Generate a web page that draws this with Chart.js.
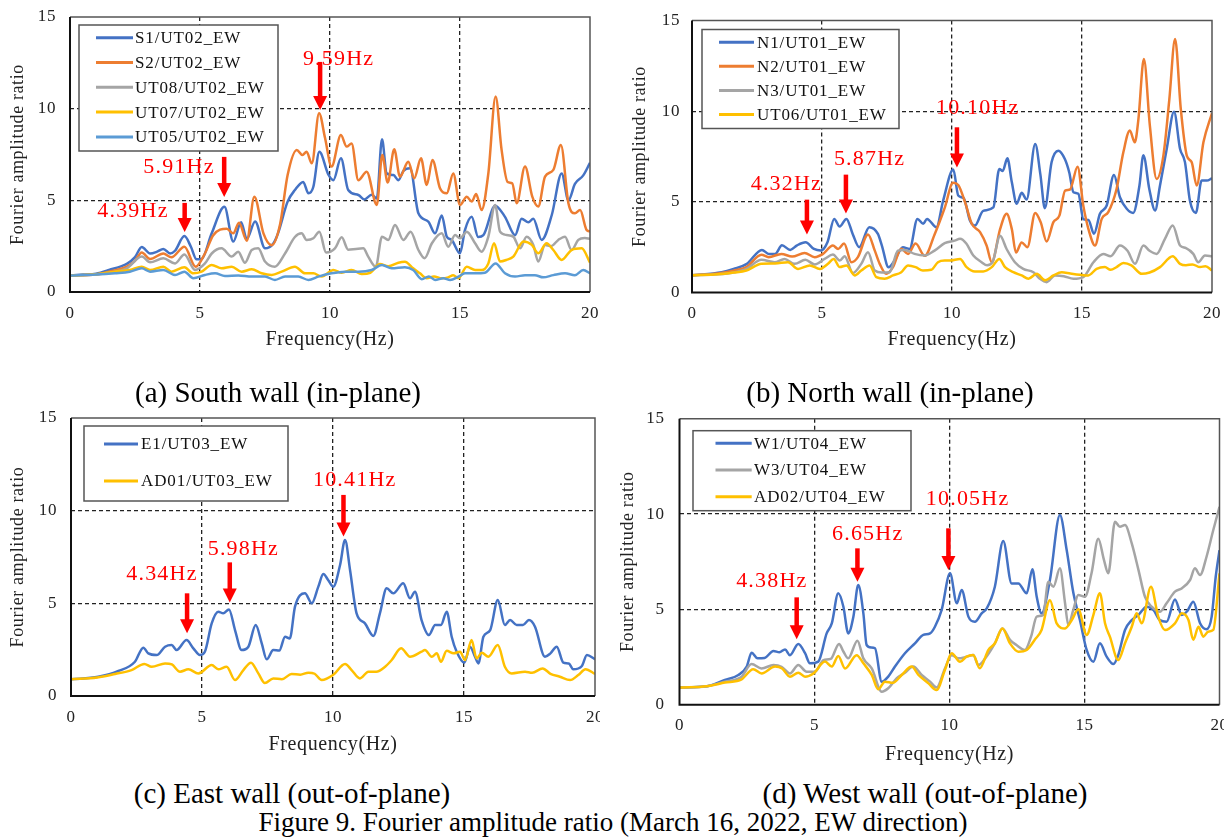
<!DOCTYPE html>
<html><head><meta charset="utf-8">
<script src="https://cdn.jsdelivr.net/npm/chart.js@4.4.1/dist/chart.umd.min.js"></script>
<style>
html,body{margin:0;padding:0;background:#fff;}
body{width:1224px;height:839px;position:relative;overflow:hidden;font-family:'Liberation Serif','Times New Roman',serif;}
canvas{position:absolute;}
.cap{position:absolute;font-size:29px;color:#000;white-space:nowrap;transform:translate(-50%,-50%);line-height:1;}
.fig{font-size:27px;}
</style></head><body>
<canvas id="ca" width="605" height="365" style="left:0;top:0"></canvas>
<canvas id="cb" width="609" height="365" style="left:615px;top:0"></canvas>
<canvas id="cc" width="600" height="360" style="left:0;top:400px"></canvas>
<canvas id="cd" width="609" height="370" style="left:615px;top:400px"></canvas>
<div class="cap" style="left:278px;top:392px">(a) South wall (in-plane)</div>
<div class="cap" style="left:890px;top:392px">(b) North wall (in-plane)</div>
<div class="cap" style="left:292px;top:793px">(c) East wall (out-of-plane)</div>
<div class="cap" style="left:925px;top:793px">(d) West wall (out-of-plane)</div>
<div class="cap fig" style="left:613px;top:822px">Figure 9. Fourier amplitude ratio (March 16, 2022, EW direction)</div>
<script>
// ---------- data: [frequency (Hz), amplitude ratio] ----------
// (a) South wall
const aLabels = ['S1/UT02_EW','S2/UT02_EW','UT08/UT02_EW','UT07/UT02_EW','UT05/UT02_EW'];
const aS1 = [[0,0.9],[0.5,0.95],[1.0,1.0],[1.5,1.2],[2.2,1.55],[2.5,1.9],[2.76,2.45],[3.08,2.1],[3.35,2.2],[3.59,2.35],[3.85,2.1],[4.04,2.25],[4.4,3.05],[4.65,2.47],[4.87,1.78],[5.06,1.8],[5.45,3.2],[5.94,4.65],[6.28,2.75],[6.58,3.8],[6.8,2.9],[7.12,3.85],[7.5,2.38],[7.82,2.65],[8.0,3.2],[8.37,4.93],[8.65,5.56],[8.97,6.0],[9.17,5.38],[9.36,5.74],[9.59,7.65],[9.94,6.4],[10.13,6.1],[10.42,7.29],[10.7,5.56],[11.09,5.29],[11.32,5.05],[11.6,5.3],[11.8,5.1],[12.0,8.33],[12.18,6.47],[12.44,6.38],[12.63,6.1],[12.82,6.6],[13.08,6.75],[13.4,4.29],[13.78,3.84],[14.04,3.2],[14.3,4.17],[14.49,3.02],[14.68,2.84],[15.0,2.11],[15.19,3.38],[15.45,4.1],[15.7,3.0],[15.9,3.1],[16.35,4.71],[16.73,4.1],[17.12,3.1],[17.37,4.0],[17.63,3.8],[17.82,4.0],[18.14,2.84],[18.53,4.2],[18.91,6.47],[19.17,5.0],[19.42,5.9],[19.74,6.36],[20.0,7.05]];
const aS2 = [[0,0.9],[1.0,0.95],[1.5,1.1],[2.18,1.38],[2.5,1.7],[2.76,2.16],[3.08,1.8],[3.59,2.1],[3.9,1.89],[4.4,2.47],[4.83,1.38],[5.19,2.1],[5.51,3.1],[6.03,3.45],[6.28,3.2],[6.5,3.78],[6.8,2.8],[7.09,5.2],[7.44,3.2],[7.76,2.55],[8.08,3.69],[8.37,6.38],[8.72,7.75],[8.94,7.47],[9.1,7.65],[9.3,7.02],[9.58,9.75],[9.81,8.4],[10.06,6.84],[10.42,8.56],[10.64,7.93],[10.83,8.1],[11.09,6.1],[11.41,6.56],[11.8,4.75],[12.01,7.47],[12.22,5.97],[12.47,7.79],[12.69,6.29],[13.01,7.1],[13.24,6.2],[13.5,7.29],[13.72,5.84],[13.94,7.2],[14.23,5.66],[14.49,5.38],[14.74,6.47],[15.0,4.75],[15.26,5.2],[15.45,4.93],[15.62,5.34],[15.83,4.47],[16.09,6.47],[16.37,10.66],[16.6,7.75],[16.83,6.0],[17.01,5.93],[17.18,4.84],[17.5,6.84],[17.78,5.2],[18.01,4.66],[18.27,6.29],[18.59,6.66],[18.88,8.02],[19.17,4.84],[19.42,4.29],[19.62,4.47],[19.87,3.38],[20.0,3.3]];
const aUT08 = [[0,0.9],[1.0,0.95],[1.5,1.05],[2.18,1.29],[2.76,1.93],[3.08,1.62],[3.59,1.84],[4.04,1.56],[4.4,2.05],[4.81,1.2],[5.19,1.56],[5.45,2.1],[5.83,2.38],[6.22,1.93],[6.47,2.2],[6.73,1.6],[6.99,2.29],[7.24,2.38],[7.5,1.66],[7.88,1.38],[8.27,2.1],[8.65,3.0],[8.91,3.2],[9.1,2.84],[9.36,2.93],[9.59,3.29],[9.85,2.15],[10.19,2.38],[10.45,2.98],[10.7,2.31],[11.0,2.35],[11.28,2.38],[11.47,1.93],[11.76,1.38],[12.0,3.02],[12.24,2.84],[12.5,3.66],[12.82,2.84],[13.1,3.29],[13.4,2.29],[13.64,1.84],[13.92,2.66],[14.3,3.2],[14.55,2.47],[14.81,3.11],[15.0,2.93],[15.26,3.29],[15.58,2.66],[15.83,2.2],[16.09,3.02],[16.35,4.75],[16.54,3.29],[16.79,3.11],[17.05,3.02],[17.31,2.38],[17.56,3.02],[17.82,2.57],[18.01,1.66],[18.27,2.57],[18.5,2.5],[18.78,2.84],[19.04,3.02],[19.29,2.29],[19.55,2.84],[19.8,2.95],[20.0,2.9]];
const aUT07 = [[0,0.9],[1.0,0.97],[1.73,1.11],[2.3,1.2],[2.76,1.38],[3.08,1.2],[3.59,1.38],[3.9,1.11],[4.4,1.35],[4.74,1.02],[5.06,1.11],[5.45,1.47],[5.83,1.29],[6.22,1.38],[6.6,1.11],[6.99,1.24],[7.37,1.02],[7.76,0.93],[8.14,1.11],[8.65,1.38],[9.04,1.02],[9.36,1.02],[9.68,0.84],[10.13,1.2],[10.45,1.05],[10.83,1.2],[11.22,0.98],[11.55,1.05],[11.92,1.53],[12.24,1.4],[12.63,1.6],[12.88,1.65],[13.2,1.29],[13.46,1.02],[13.72,0.75],[14.0,0.85],[14.3,0.75],[14.55,0.8],[14.74,0.92],[14.94,0.75],[15.26,1.38],[15.58,1.2],[15.83,1.2],[16.09,1.56],[16.31,2.66],[16.54,1.66],[16.79,1.75],[17.05,1.93],[17.44,2.75],[17.76,2.57],[18.01,2.11],[18.33,2.66],[18.59,2.29],[18.91,1.75],[19.29,2.29],[19.68,2.38],[20.0,1.6]];
const aUT05 = [[0,0.9],[1.0,0.95],[1.73,1.02],[2.3,1.1],[2.76,1.29],[3.08,1.11],[3.59,1.2],[4.04,0.93],[4.4,1.11],[4.74,0.75],[5.19,0.93],[5.58,1.02],[5.96,0.87],[6.47,0.9],[6.99,0.84],[7.5,0.84],[7.88,0.66],[8.27,0.84],[8.78,0.84],[9.17,0.66],[9.55,0.84],[10.06,1.02],[10.58,1.11],[11.09,1.11],[11.6,1.2],[12.0,1.47],[12.37,1.29],[12.88,1.35],[13.2,1.2],[13.53,0.7],[13.8,0.85],[14.04,0.66],[14.36,0.75],[14.62,0.66],[14.94,0.84],[15.19,1.02],[15.58,1.02],[15.96,1.05],[16.37,1.56],[16.73,1.02],[17.12,0.84],[17.5,0.92],[17.88,0.92],[18.2,0.8],[18.59,0.92],[19.04,1.02],[19.42,0.92],[19.74,1.2],[20.0,1.02]];
const aNoteText = ['4.39Hz','5.91Hz','9.59Hz'];
const aNoteAt = [[2.42,4.4],[4.19,6.79],[10.33,12.71]];
const aArrow = [[4.41,4.86,3.27],[5.93,7.37,5.18],[9.62,12.55,9.93]];

// (b) North wall
const bLabels = ['N1/UT01_EW','N2/UT01_EW','N3/UT01_EW','UT06/UT01_EW'];
const bN1 = [[0,0.95],[1.14,1.12],[1.6,1.3],[2.11,1.58],[2.69,2.35],[2.95,2.13],[3.2,2.13],[3.46,2.6],[3.78,2.35],[4.04,2.6],[4.37,2.77],[4.69,2.4],[4.95,2.31],[5.21,2.77],[5.47,4.06],[5.68,3.64],[5.94,4.06],[6.18,3.23],[6.43,2.5],[6.82,3.6],[7.15,3.23],[7.3,2.6],[7.56,1.39],[7.79,1.76],[8.11,2.5],[8.37,2.4],[8.67,4.06],[8.89,3.79],[9.04,4.06],[9.4,3.6],[9.66,5.07],[10.05,6.78],[10.24,5.35],[10.45,5.2],[10.69,3.97],[10.88,3.69],[11.2,4.5],[11.59,4.69],[11.82,6.81],[11.95,6.7],[12.13,7.4],[12.3,6.09],[12.49,4.9],[12.68,5.5],[12.87,5.13],[13.2,8.19],[13.4,6.5],[13.57,4.65],[13.83,7.18],[14.09,7.82],[14.34,7.36],[14.51,6.62],[14.67,5.53],[14.86,5.44],[15.05,4.05],[15.25,4.0],[15.46,3.24],[15.69,4.34],[15.95,4.8],[16.23,6.48],[16.46,5.25],[16.72,4.62],[16.97,4.39],[17.21,5.9],[17.36,7.57],[17.59,5.7],[17.81,4.52],[18.0,5.9],[18.26,7.93],[18.54,9.97],[18.77,7.93],[18.96,7.19],[19.15,5.07],[19.38,4.39],[19.6,6.17],[19.8,6.17],[20.0,6.3]];
const bN2 = [[0,0.95],[1.0,1.05],[1.6,1.2],[2.09,1.4],[2.67,2.08],[2.95,1.95],[3.44,2.13],[3.85,1.98],[4.33,2.18],[4.72,1.95],[5.04,2.13],[5.42,2.59],[5.62,2.4],[5.85,2.7],[6.13,1.67],[6.38,1.95],[6.77,3.2],[7.03,2.31],[7.22,1.58],[7.47,1.03],[7.73,1.4],[8.05,2.41],[8.31,2.13],[8.6,2.7],[8.95,2.02],[9.33,3.2],[9.72,4.67],[10.04,6.05],[10.24,5.93],[10.5,4.98],[10.76,3.79],[11.08,3.33],[11.33,2.59],[11.53,1.67],[11.85,3.5],[12.1,4.34],[12.3,3.5],[12.46,2.2],[12.68,2.76],[12.9,2.5],[13.2,4.39],[13.41,3.88],[13.64,2.81],[13.9,3.88],[14.13,4.24],[14.35,5.62],[14.54,5.68],[14.83,6.94],[15.05,4.79],[15.28,3.33],[15.5,2.59],[15.76,4.06],[16.01,4.43],[16.33,5.71],[16.59,7.73],[16.84,8.93],[17.03,8.28],[17.17,9.56],[17.38,12.87],[17.61,9.2],[17.87,6.26],[18.13,7.55],[18.36,10.67],[18.58,13.98],[18.8,10.12],[19.03,7.55],[19.22,7.18],[19.41,5.9],[19.67,8.28],[20.0,9.9]];
const bN3 = [[0,0.95],[1.0,1.0],[1.6,1.1],[2.09,1.3],[2.67,1.8],[3.18,1.67],[3.56,1.85],[3.95,1.58],[4.36,1.8],[4.72,1.55],[5.1,1.85],[5.42,2.09],[5.68,1.76],[5.87,2.0],[6.19,1.07],[6.51,1.58],[6.77,2.22],[7.03,1.21],[7.3,1.1],[7.6,1.12],[7.92,2.31],[8.18,2.35],[8.56,2.13],[8.95,2.04],[9.33,2.31],[9.72,2.72],[10.1,2.86],[10.31,2.96],[10.55,2.7],[10.82,2.04],[11.14,1.67],[11.35,1.5],[11.56,1.67],[11.85,3.13],[12.1,2.4],[12.42,1.67],[12.74,1.3],[13.13,1.12],[13.38,0.76],[13.64,0.57],[13.96,0.94],[14.3,0.9],[14.67,0.76],[15.05,0.85],[15.44,1.67],[15.82,2.13],[16.1,2.0],[16.46,2.59],[16.75,2.3],[17.04,1.58],[17.36,2.59],[17.6,2.3],[17.87,2.13],[18.19,2.96],[18.49,3.7],[18.77,2.59],[19.0,2.45],[19.28,2.13],[19.47,1.67],[19.73,2.04],[20.0,2.0]];
const bUT06 = [[0,0.95],[1.0,1.0],[1.6,1.1],[2.09,1.21],[2.67,1.58],[3.2,1.6],[3.69,1.67],[4.08,1.3],[4.53,1.49],[4.92,1.3],[5.23,1.58],[5.45,1.85],[5.68,1.4],[5.94,1.49],[6.26,0.94],[6.51,1.21],[6.83,1.49],[7.09,0.85],[7.41,0.76],[7.73,0.94],[8.05,1.12],[8.31,1.49],[8.6,1.4],[8.88,1.21],[9.2,1.25],[9.46,1.67],[9.72,1.76],[9.92,1.76],[10.31,1.85],[10.56,1.4],[10.88,1.16],[11.2,1.16],[11.53,1.4],[11.82,1.85],[12.04,1.4],[12.36,1.12],[12.68,0.94],[12.94,0.76],[13.26,1.03],[13.58,0.67],[13.9,0.94],[14.22,1.12],[14.55,1.05],[14.92,0.98],[15.24,0.94],[15.56,1.3],[15.88,1.4],[16.1,1.25],[16.33,1.4],[16.59,1.63],[16.9,1.5],[17.3,1.03],[17.6,1.1],[18.0,1.4],[18.49,2.0],[18.77,1.58],[19.0,1.5],[19.25,1.55],[19.54,1.4],[19.75,1.45],[20.0,1.21]];
const bNoteText = ['4.32Hz','5.87Hz','10.10Hz'];
const bNoteAt = [[3.63,5.99],[6.83,7.33],[10.99,10.19]];
const bArrow = [[4.42,5.12,3.2],[5.92,6.5,4.35],[10.19,9.11,6.9]];

// (c) East wall
const cLabels = ['E1/UT03_EW','AD01/UT03_EW'];
const cE1 = [[0,0.9],[1.04,1.04],[1.81,1.35],[2.44,1.85],[2.76,2.61],[2.95,2.3],[3.27,2.21],[3.59,2.66],[3.84,2.75],[4.03,2.48],[4.41,3.02],[4.67,2.57],[4.92,2.21],[5.11,2.39],[5.37,3.92],[5.62,4.55],[5.81,4.46],[6.03,4.67],[6.26,3.56],[6.51,2.48],[6.77,2.66],[7.05,3.83],[7.28,2.84],[7.47,1.98],[7.72,2.48],[7.95,2.45],[8.17,3.2],[8.35,3.1],[8.55,4.82],[8.93,5.54],[9.19,5.0],[9.44,5.9],[9.63,6.58],[9.82,6.25],[10.01,5.9],[10.27,7.07],[10.46,8.42],[10.65,6.8],[10.9,4.46],[11.22,3.92],[11.54,3.24],[11.79,4.46],[12.05,5.81],[12.3,5.54],[12.68,6.08],[12.94,5.27],[13.13,5.63],[13.38,4.1],[13.66,3.29],[13.9,3.83],[14.12,3.83],[14.34,4.55],[14.53,3.2],[14.72,2.39],[15.01,1.8],[15.23,2.66],[15.42,2.12],[15.55,1.76],[15.74,3.2],[16.0,3.56],[16.29,5.18],[16.56,3.83],[16.76,4.1],[17.01,3.83],[17.25,3.83],[17.48,4.1],[17.71,3.74],[18.09,2.12],[18.3,2.3],[18.54,2.66],[18.79,1.8],[19.0,1.75],[19.17,1.44],[19.5,1.62],[19.69,2.21],[20.0,1.98]];
const cAD01 = [[0,0.9],[1.0,1.0],[1.68,1.19],[2.31,1.4],[2.8,1.73],[3.08,1.58],[3.59,1.76],[3.85,1.7],[4.16,1.31],[4.48,1.44],[4.86,1.22],[5.37,1.67],[5.62,1.44],[5.94,1.58],[6.26,0.86],[6.58,1.4],[6.87,1.8],[7.15,1.22],[7.4,0.7],[7.72,0.95],[8.05,0.9],[8.42,1.19],[8.75,1.15],[9.06,1.26],[9.3,1.2],[9.57,0.86],[10.0,1.13],[10.46,1.73],[10.71,1.4],[11.03,0.95],[11.35,1.31],[11.65,1.31],[11.99,1.58],[12.24,1.94],[12.6,2.57],[12.94,2.12],[13.38,2.39],[13.51,2.48],[13.77,2.12],[13.96,2.3],[14.12,1.85],[14.34,2.44],[14.6,2.3],[14.85,2.39],[15.04,1.94],[15.29,3.02],[15.48,2.03],[15.68,2.33],[15.93,2.12],[16.29,2.75],[16.56,1.58],[16.82,1.22],[17.33,1.31],[17.6,1.25],[18.0,1.49],[18.3,1.2],[18.66,1.04],[19.05,0.86],[19.36,1.13],[19.64,1.44],[20.0,1.19]];
const cNoteText = ['4.34Hz','5.98Hz','10.41Hz'];
const cNoteAt = [[3.47,6.58],[6.58,7.93],[10.83,11.63]];
const cArrow = [[4.43,5.54,3.38],[6.06,7.21,5.04],[10.4,10.85,8.6]];

// (d) West wall
const dLabels = ['W1/UT04_EW','W3/UT04_EW','AD02/UT04_EW'];
const dW1 = [[0,0.9],[0.94,0.95],[1.68,1.3],[2.18,1.56],[2.49,2.0],[2.67,2.73],[2.89,2.43],[3.15,2.45],[3.48,2.82],[3.7,2.75],[3.91,2.9],[4.09,2.6],[4.4,3.19],[4.65,2.7],[4.83,2.17],[5.14,2.26],[5.45,3.74],[5.64,4.26],[5.88,5.84],[6.07,5.14],[6.25,3.74],[6.44,4.61],[6.62,6.28],[6.81,4.79],[6.93,3.13],[7.1,3.0],[7.24,2.96],[7.49,1.2],[7.73,1.47],[7.98,2.0],[8.35,2.7],[8.72,3.22],[9.03,3.66],[9.28,3.74],[9.46,4.09],[9.71,4.97],[10.02,6.89],[10.27,5.32],[10.45,6.02],[10.7,4.62],[10.94,4.35],[11.19,4.79],[11.38,5.05],[11.68,6.19],[11.99,8.58],[12.3,6.36],[12.55,6.36],[12.86,5.84],[13.07,7.1],[13.23,5.66],[13.41,4.79],[13.72,6.54],[14.09,9.95],[14.34,8.11],[14.59,5.84],[14.83,4.44],[15.08,2.87],[15.33,2.25],[15.57,3.22],[15.82,2.52],[16.07,2.13],[16.25,2.6],[16.5,3.92],[16.75,4.44],[17.0,4.71],[17.3,5.14],[17.55,4.97],[17.79,4.44],[18.04,4.35],[18.35,5.52],[18.6,4.71],[18.8,4.9],[19.03,5.4],[19.28,4.27],[19.52,3.96],[19.71,4.62],[19.86,6.71],[20.0,8.11]];
const dW3 = [[0,0.9],[1.0,0.97],[1.68,1.21],[2.3,1.47],[2.67,2.13],[3.04,1.9],[3.48,2.08],[3.78,1.99],[4.09,1.64],[4.4,2.08],[4.71,1.73],[5.02,1.73],[5.33,2.34],[5.6,2.4],[5.91,3.19],[6.07,2.79],[6.25,2.43],[6.59,3.36],[6.81,2.43],[7.12,1.9],[7.49,0.68],[7.73,0.86],[8.04,1.38],[8.35,1.68],[8.66,2.0],[8.97,1.56],[9.28,1.21],[9.52,0.9],[9.83,1.9],[10.08,2.6],[10.33,2.43],[10.6,2.5],[10.88,2.61],[11.07,2.08],[11.32,2.43],[11.68,3.22],[11.96,4.0],[12.24,3.4],[12.48,3.13],[12.79,2.87],[13.02,3.57],[13.23,4.62],[13.47,4.71],[13.66,6.45],[13.85,6.19],[14.09,7.15],[14.28,5.32],[14.4,4.18],[14.59,5.0],[14.77,5.75],[15.02,5.66],[15.26,6.89],[15.51,8.71],[15.72,7.6],[15.88,6.89],[16.13,9.6],[16.31,9.33],[16.5,9.42],[16.75,8.46],[17.0,7.06],[17.24,5.66],[17.49,5.14],[17.79,4.88],[18.04,5.32],[18.35,5.93],[18.6,6.1],[18.91,6.54],[19.09,7.15],[19.28,6.8],[19.52,7.76],[19.77,9.16],[20.0,10.38]];
const dAD02 = [[0,0.9],[1.0,0.97],[1.68,1.16],[2.3,1.33],[2.73,1.86],[3.04,1.64],[3.54,2.0],[3.8,1.9],[4.09,1.47],[4.4,1.68],[4.65,1.47],[4.96,1.64],[5.39,2.26],[5.64,2.0],[5.88,2.56],[6.13,1.9],[6.56,2.6],[6.81,2.17],[7.12,1.56],[7.36,0.81],[7.61,1.21],[7.9,1.15],[8.23,1.56],[8.6,2.0],[8.85,1.56],[9.22,1.12],[9.52,0.77],[9.83,1.82],[10.08,2.7],[10.39,2.25],[10.63,2.52],[10.88,2.61],[11.12,1.91],[11.44,2.87],[11.68,3.22],[11.96,4.0],[12.24,3.22],[12.55,2.78],[12.86,2.87],[13.17,3.43],[13.41,3.92],[13.72,5.48],[13.97,4.27],[14.28,4.0],[14.53,4.44],[14.77,5.0],[15.08,3.66],[15.33,4.71],[15.57,5.84],[15.76,4.27],[15.94,3.57],[16.25,2.34],[16.5,3.22],[16.75,4.09],[16.93,4.79],[17.12,4.27],[17.46,6.19],[17.73,4.62],[17.98,3.92],[18.35,4.27],[18.6,4.79],[18.85,4.44],[19.03,3.4],[19.22,4.09],[19.4,3.57],[19.58,3.83],[19.77,3.92],[20.0,6.89]];
const dNoteText = ['4.38Hz','6.65Hz','10.05Hz'];
const dNoteAt = [[3.42,6.49],[6.97,8.95],[10.67,10.76]];
const dArrow = [[4.34,5.63,3.43],[6.59,8.2,6.45],[9.96,9.25,7.06]];

const xTickValues = [0,5,10,15,20];
const yTickValues = [0,5,10,15];

// ---------- styling ----------
const COL = {blue:'#4472C4', orange:'#ED7D31', gray:'#A5A5A5', yellow:'#FFC000', lblue:'#5B9BD5'};
const FONT = "'Liberation Serif','Times New Roman',serif";

const spacingPlugin = {id:'spacing', beforeDraw(chart){ try{ chart.ctx.letterSpacing = '0.6px'; }catch(e){} }};

const framePlugin = {id:'frame', afterDatasetsDraw(chart){
  const {ctx, chartArea:a} = chart;
  ctx.save();
  ctx.strokeStyle = '#555'; ctx.lineWidth = 1.5;
  ctx.beginPath(); ctx.moveTo(a.left,a.top); ctx.lineTo(a.right,a.top); ctx.lineTo(a.right,a.bottom); ctx.stroke();
  ctx.strokeStyle = '#111'; ctx.lineWidth = 2;
  ctx.beginPath(); ctx.moveTo(a.left,a.top); ctx.lineTo(a.left,a.bottom); ctx.lineTo(a.right,a.bottom); ctx.stroke();
  ctx.restore();
}};

const boxLegend = {id:'boxLegend', afterDatasetsDraw(chart, args, o){
  const {ctx, chartArea:a} = chart;
  const x = a.left + o.x, y = a.top + o.y;
  ctx.save();
  ctx.fillStyle = '#fff'; ctx.fillRect(x, y, o.w, o.h);
  ctx.strokeStyle = '#555'; ctx.lineWidth = 1.5; ctx.strokeRect(x, y, o.w, o.h);
  try{ ctx.letterSpacing = '0.9px'; }catch(e){}
  chart.data.datasets.forEach((d,i)=>{
    const cy = y + o.first + i*o.step;
    ctx.strokeStyle = d.borderColor; ctx.lineWidth = 3;
    ctx.beginPath(); ctx.moveTo(x+o.l1, cy); ctx.lineTo(x+o.l2, cy); ctx.stroke();
    ctx.fillStyle = '#111'; ctx.font = '17px ' + FONT; ctx.textBaseline = 'middle'; ctx.textAlign = 'left';
    ctx.fillText(d.label, x+o.tx, cy+1);
  });
  ctx.restore();
}};

const peakNotes = {id:'peakNotes', afterDatasetsDraw(chart, args, o){
  const {ctx, scales:{x:sx, y:sy}} = chart;
  ctx.save();
  try{ ctx.letterSpacing = '1.2px'; }catch(e){}
  ctx.fillStyle = '#FF0000'; ctx.strokeStyle = '#FF0000';
  ctx.font = '22px ' + FONT; ctx.textAlign = 'center'; ctx.textBaseline = 'middle';
  o.text.forEach((t,i)=>{
    ctx.fillText(t, sx.getPixelForValue(o.at[i][0]), sy.getPixelForValue(o.at[i][1]));
    const ax = sx.getPixelForValue(o.arrow[i][0]);
    const y1 = sy.getPixelForValue(o.arrow[i][1]);
    const y2 = sy.getPixelForValue(o.arrow[i][2]);
    const hl = 14, hw = 7;
    ctx.fillRect(ax-2.25, y1, 4.5, (y2-hl)-y1+1);
    ctx.beginPath(); ctx.moveTo(ax-hw, y2-hl); ctx.lineTo(ax+hw, y2-hl); ctx.lineTo(ax, y2); ctx.closePath(); ctx.fill();
  });
  ctx.restore();
}};

function makeChart(id, series, labels, colors, geo, notes){
  const datasets = series.map((s,i)=>({
    label: labels[i],
    data: s.map(p=>({x:p[0], y:p[1]})),
    borderColor: colors[i], backgroundColor: colors[i],
    borderWidth: 2.5, pointRadius: 0, fill: false,
    cubicInterpolationMode: 'monotone', order: -i
  }));
  const edge = (max)=> (ctx)=> (ctx.tick && (ctx.tick.value===0 || ctx.tick.value===max)) ? 'rgba(0,0,0,0)' : '#222';
  return new Chart(document.getElementById(id), {
    type: 'line',
    data: {datasets},
    options: {
      responsive: false, animation: false, devicePixelRatio: 1,
      layout: {padding: {left: 0, top: geo.top, right: geo.right, bottom: 0}},
      plugins: {
        legend: {display: false}, tooltip: {enabled: false},
        boxLegend: geo.legend,
        peakNotes: notes
      },
      scales: {
        x: {
          type: 'linear', min: 0, max: 20,
          afterBuildTicks(s){ s.ticks = xTickValues.map(v=>({value:v})); },
          ticks: {color: '#222', font: {size: 17, family: FONT}, padding: 11, maxRotation: 0, autoSkip: false},
          grid: {color: edge(20), lineWidth: 1.3, drawTicks: false},
          border: {display: false, dash: [4,3]},
          title: {display: true, text: 'Frequency(Hz)', color: '#222', font: {size: 20, family: FONT}, padding: {top: 0, bottom: geo.xtp}},
          afterFit(s){ s.height = geo.xh; s.paddingLeft = 0; s.paddingRight = 0; }
        },
        y: {
          type: 'linear', min: 0, max: 15,
          afterBuildTicks(s){ s.ticks = yTickValues.map(v=>({value:v})); },
          ticks: {color: '#222', font: {size: 17, family: FONT}, padding: geo.ytick},
          grid: {color: edge(15), lineWidth: 1.3, drawTicks: false},
          border: {display: false, dash: [4,3]},
          title: {display: true, text: 'Fourier amplitude ratio', color: '#222', font: {size: 18, family: FONT}, padding: {top: geo.ytp, bottom: 0}},
          afterFit(s){ s.width = geo.yw; s.paddingTop = 0; s.paddingBottom = 0; }
        }
      }
    },
    plugins: [spacingPlugin, framePlugin, boxLegend, peakNotes]
  });
}

makeChart('ca', [aS1,aS2,aUT08,aUT07,aUT05], aLabels, [COL.blue,COL.orange,COL.gray,COL.yellow,COL.lblue],
  {top:17, right:15, yw:70, xh:73, xtp:13, ytp:7.2, ytick:14,
   legend:{x:9, y:8, w:199, h:126, first:12.7, step:24.8, l1:17, l2:54, tx:56}},
  {text:aNoteText, at:aNoteAt, arrow:aArrow});
makeChart('cb', [bN1,bN2,bN3,bUT06], bLabels, [COL.blue,COL.orange,COL.gray,COL.yellow],
  {top:20.5, right:12, yw:77, xh:72.5, xtp:13, ytp:14.2, ytick:12,
   legend:{x:10, y:9, w:197, h:99, first:12.7, step:24.1, l1:17, l2:52, tx:55}},
  {text:bNoteText, at:bNoteAt, arrow:bArrow});
makeChart('cc', [cE1,cAD01], cLabels, [COL.blue,COL.yellow],
  {top:18, right:5, yw:71, xh:64, xtp:3, ytp:7.2, ytick:14,
   legend:{x:13, y:8, w:204, h:75, first:18, step:37, l1:20, l2:54, tx:57}},
  {text:cNoteText, at:cNoteAt, arrow:cArrow});
makeChart('cd', [dW1,dW3,dAD02], dLabels, [COL.blue,COL.gray,COL.yellow],
  {top:18.7, right:4.5, yw:64.5, xh:65.3, xtp:3, ytp:2.2, ytick:15,
   legend:{x:13.5, y:12, w:218, h:80, first:12.6, step:26.7, l1:22.5, l2:58.7, tx:61}},
  {text:dNoteText, at:dNoteAt, arrow:dArrow});
</script>
</body></html>
